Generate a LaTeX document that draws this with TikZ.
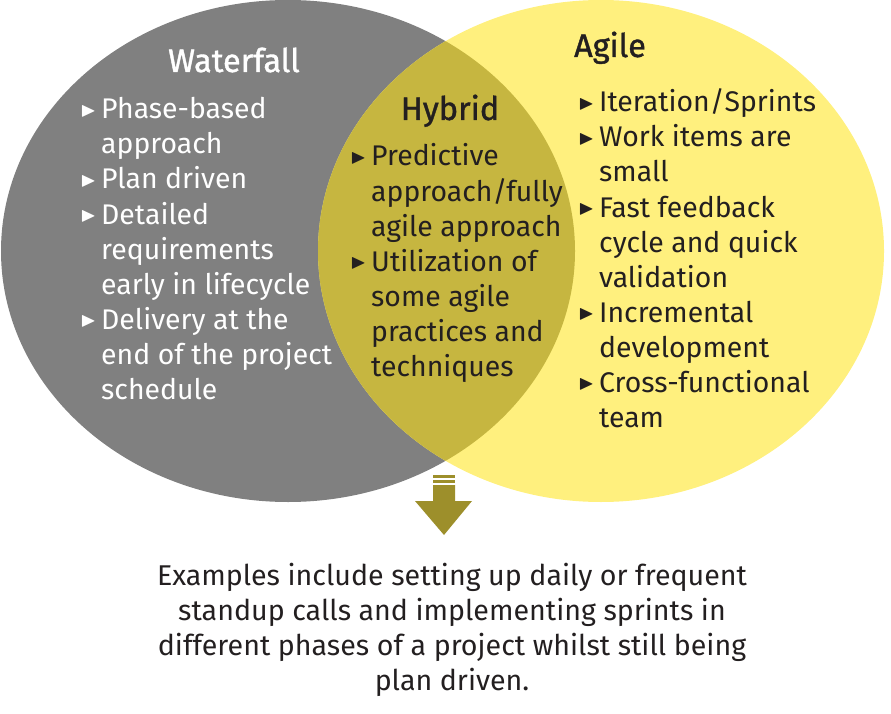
\documentclass[tikz,border=0pt]{standalone}
\usepackage{fontspec}
\usepackage{amssymb}
\setmainfont{Fira Sans}
\newfontfamily\titlefont[FakeBold=1.2]{Fira Sans}
\definecolor{wfgray}{HTML}{808080}
\definecolor{agyellow}{HTML}{FFF07E}
\definecolor{hyolive}{HTML}{C6B640}
\definecolor{arrowolive}{HTML}{9D8F2B}
\definecolor{ink}{HTML}{231F20}
% hanging bullet triangle
\newcommand\bl{\llap{\raisebox{2.5pt}{\scalebox{0.72}{$\blacktriangleright$}}\hspace{5pt}}}
\tikzset{
  txt/.style={anchor=base west, inner sep=0pt, font=\fontsize{28.4}{35}\selectfont},
  ttl/.style={anchor=base, inner sep=0pt, font=\titlefont\fontsize{32.5}{35}\selectfont},
  wtxt/.style={txt, text=white},
  dtxt/.style={txt, text=ink},
  foot/.style={anchor=base, inner sep=0pt, text=ink, font=\fontsize{28.6}{35}\selectfont}
}
\begin{document}
\begin{tikzpicture}[x=1pt,y=-1pt]
\useasboundingbox (0,0) rectangle (891,714);
% circles
\fill[wfgray] (288,251) ellipse [x radius=287, y radius=251];
\fill[agyellow] (601,251) ellipse [x radius=283, y radius=251];
\begin{scope}
  \clip (288,251) ellipse [x radius=287, y radius=251];
  \fill[hyolive] (601,251) ellipse [x radius=283, y radius=251];
\end{scope}
% titles
\node[ttl, text=white] (wt) at (234,72) {Waterfall};
\node[ttl, text=ink] (at) at (610,57) {Agile};
\node[ttl, text=ink] (ht) at (450,120) {Hybrid};
% waterfall list
\node[wtxt] (w1) at (101,119) {\bl Phase-based};
\node[wtxt] (w2) at (101,154) {approach};
\node[wtxt] (w3) at (101,189) {\bl Plan driven};
\node[wtxt] (w4) at (101,224) {\bl Detailed};
\node[wtxt] (w5) at (101,259) {requirements};
\node[wtxt] (w6) at (101,294) {early in lifecycle};
\node[wtxt] (w7) at (101,329) {\bl Delivery at the};
\node[wtxt] (w8) at (101,364) {end of the project};
\node[wtxt] (w9) at (101,399) {schedule};
% hybrid list
\node[dtxt] (h1) at (371,166) {\bl Predictive};
\node[dtxt] (h2) at (371,201) {approach/fully};
\node[dtxt] (h3) at (371,236) {agile approach};
\node[dtxt] (h4) at (371,271) {\bl Utilization of};
\node[dtxt] (h5) at (371,306) {some agile};
\node[dtxt] (h6) at (371,341) {practices and};
\node[dtxt] (h7) at (371,376) {techniques};
% agile list
\node[dtxt] (a1) at (599,112) {\bl Iteration/Sprints};
\node[dtxt] (a2) at (599,147) {\bl Work items are};
\node[dtxt] (a3) at (599,182) {small};
\node[dtxt] (a4) at (599,217) {\bl Fast feedback};
\node[dtxt] (a5) at (599,252) {cycle and quick};
\node[dtxt] (a6) at (599,287) {validation};
\node[dtxt] (a7) at (599,322) {\bl Incremental};
\node[dtxt] (a8) at (599,357) {development};
\node[dtxt] (a9) at (599,392) {\bl Cross-functional};
\node[dtxt] (a10) at (599,427) {team};
% arrow
\fill[arrowolive] (433,475) rectangle (455,478);
\fill[arrowolive] (433,480) rectangle (455,483);
\fill[arrowolive] (433,485) -- (455,485) -- (455,501) -- (472,501)
  -- (444,535) -- (415,501) -- (433,501) -- cycle;
% footer
\node[foot] (f1) at (452,585) {Examples include setting up daily or frequent};
\node[foot] (f2) at (452,620) {standup calls and implementing sprints in};
\node[foot] (f3) at (452,655) {different phases of a project whilst still being};
\node[foot] (f4) at (452,690) {plan driven.};
\end{tikzpicture}
\end{document}
